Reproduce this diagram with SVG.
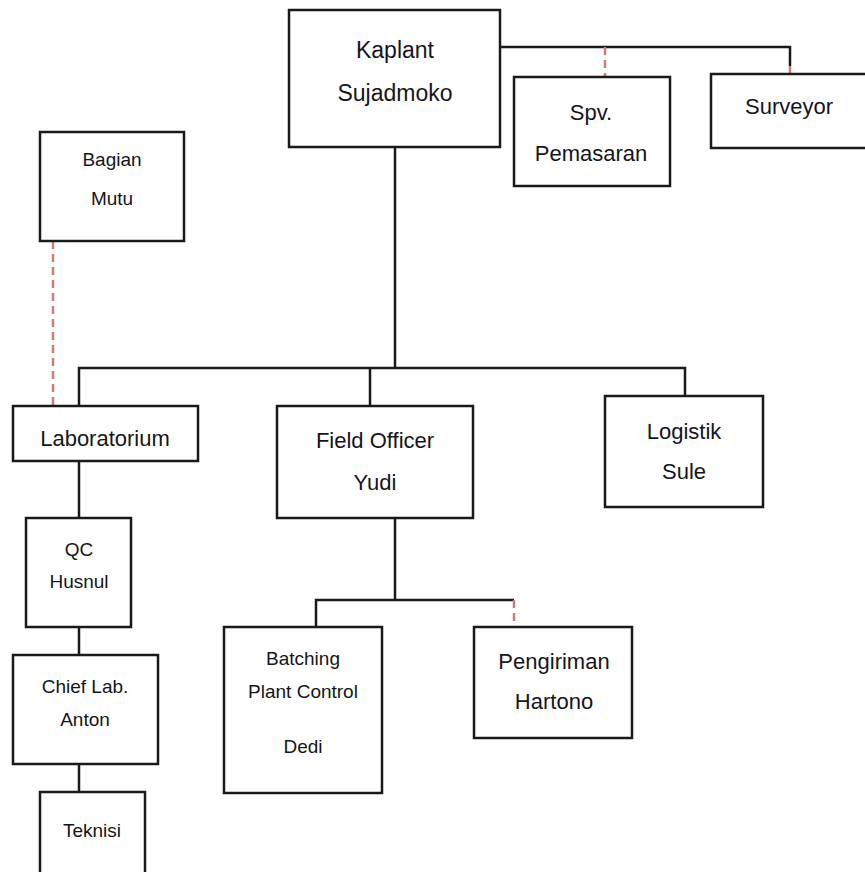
<svg xmlns="http://www.w3.org/2000/svg" width="865" height="872" viewBox="0 0 865 872">
<style>
.box{fill:#fff;stroke:#1a1a1a;stroke-width:2.5}
.ln{fill:none;stroke:#1a1a1a;stroke-width:2.5}
.dash{fill:none;stroke:#d07a7a;stroke-width:2.5;stroke-dasharray:8,5}
text{font-family:"Liberation Sans",Arial,sans-serif;fill:#151520;text-anchor:middle}
.l{font-size:23px}
.m{font-size:22px}
.s{font-size:19px}
</style>
<rect width="865" height="872" fill="#fff"/>
<g id="connectors">
<path class="ln" d="M500 47 H790 V66"/>
<path class="dash" d="M790 66 V74" stroke-dasharray="4,3"/>
<path class="dash" d="M605 47 V77"/>
<path class="ln" d="M395 147 V368 M79 406 V368 H685 V396 M370 368 V406"/>
<path class="dash" d="M53 241 V406"/>
<path class="ln" d="M79 461 V518 M79 627 V655 M79 764 V792"/>
<path class="ln" d="M395 518 V600 M316 627 V600 H514"/>
<path class="dash" d="M514 600 V627" stroke-dasharray="4,4"/>
</g>
<g id="kaplant"><rect class="box" x="289" y="10" width="211" height="137"/><text class="l" x="395" y="58">Kaplant</text><text class="l" x="395" y="101">Sujadmoko</text></g>
<g id="spv"><rect class="box" x="514" y="77" width="156" height="109"/><text class="m" x="591" y="120">Spv.</text><text class="m" x="591" y="161">Pemasaran</text></g>
<g id="surveyor"><rect class="box" x="711" y="74" width="160" height="74"/><text class="m" x="789" y="114">Surveyor</text></g>
<g id="mutu"><rect class="box" x="40" y="132" width="144" height="109"/><text class="s" x="112" y="166">Bagian</text><text class="s" x="112" y="205">Mutu</text></g>
<g id="lab"><rect class="box" x="13" y="406" width="185" height="55"/><text class="m" x="105" y="446">Laboratorium</text></g>
<g id="field"><rect class="box" x="277" y="406" width="196" height="112"/><text class="m" x="375" y="448">Field Officer</text><text class="m" x="375" y="490">Yudi</text></g>
<g id="logistik"><rect class="box" x="605" y="396" width="158" height="111"/><text class="m" x="684" y="439">Logistik</text><text class="m" x="684" y="479">Sule</text></g>
<g id="qc"><rect class="box" x="26" y="518" width="105" height="109"/><text class="s" x="79" y="556">QC</text><text class="s" x="79" y="588">Husnul</text></g>
<g id="chief"><rect class="box" x="13" y="655" width="145" height="109"/><text class="s" x="85" y="693">Chief Lab.</text><text class="s" x="85" y="726">Anton</text></g>
<g id="teknisi"><rect class="box" x="40" y="792" width="105" height="90"/><text class="s" x="92" y="837">Teknisi</text></g>
<g id="batching"><rect class="box" x="224" y="627" width="158" height="166"/><text class="s" x="303" y="665">Batching</text><text class="s" x="303" y="698">Plant Control</text><text class="s" x="303" y="753">Dedi</text></g>
<g id="pengiriman"><rect class="box" x="474" y="627" width="158" height="111"/><text class="m" x="554" y="669">Pengiriman</text><text class="m" x="554" y="709">Hartono</text></g>
</svg>
